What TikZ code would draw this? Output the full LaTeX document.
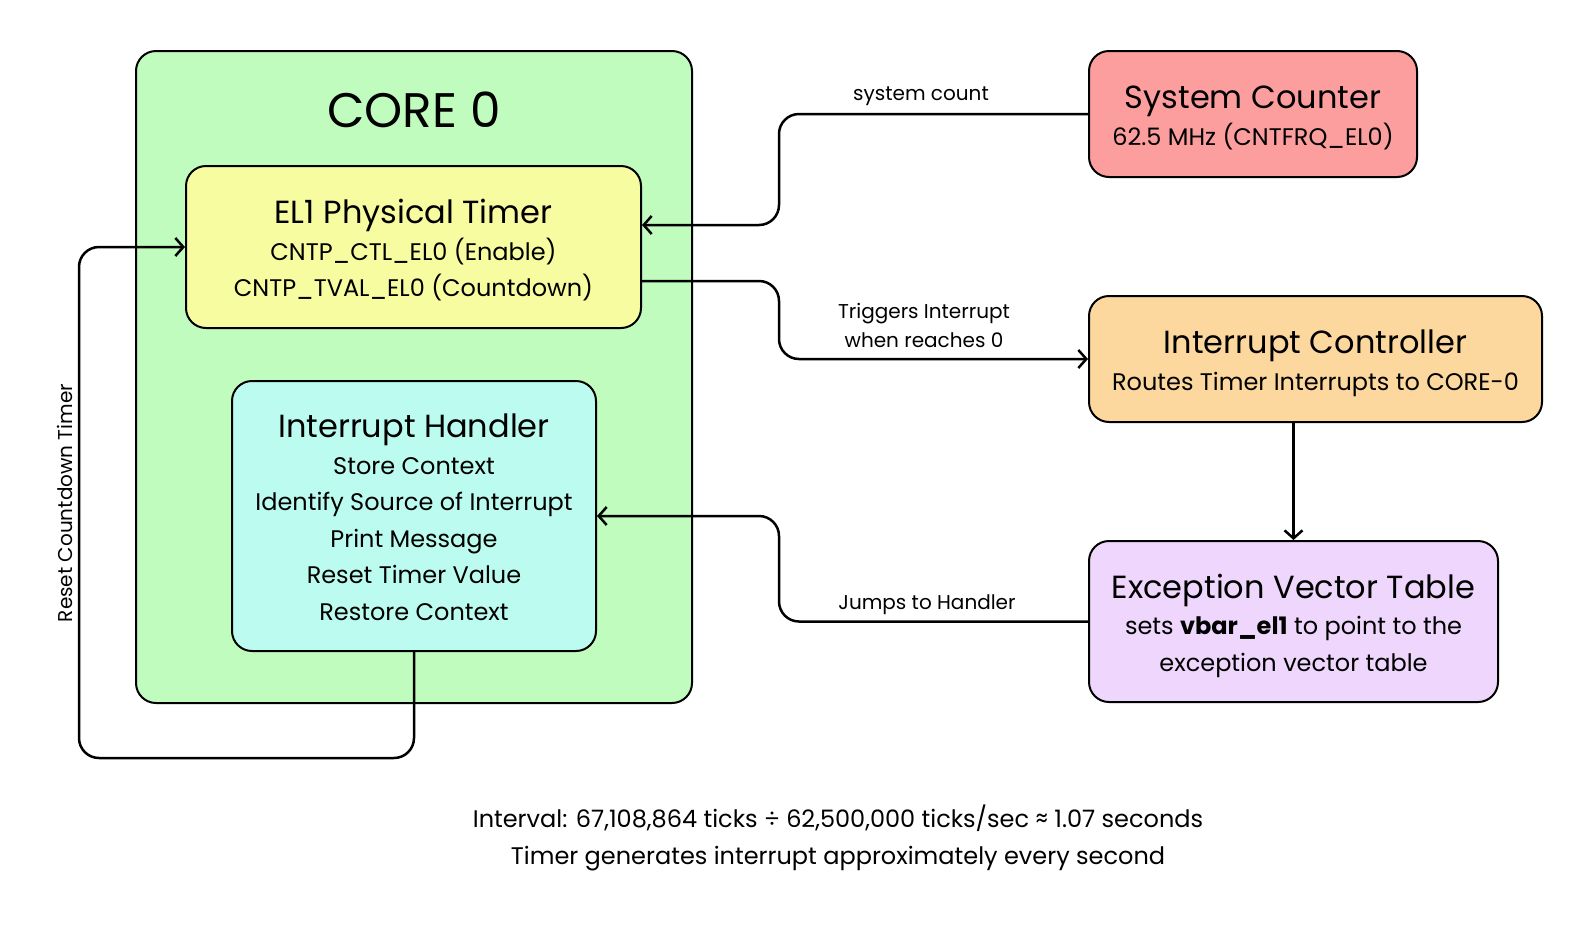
\documentclass[tikz,border=0pt]{standalone}
\usepackage{fontspec}
\setmainfont{Poppins}
\usetikzlibrary{arrows.meta}
\definecolor{coreg}{RGB}{192,252,190}
\definecolor{timery}{RGB}{248,252,160}
\definecolor{handc}{RGB}{188,252,240}
\definecolor{sysr}{RGB}{252,158,158}
\definecolor{ico}{RGB}{253,216,158}
\definecolor{evtp}{RGB}{238,214,252}
\newcommand{\ttl}{\fontsize{32}{37}\selectfont\rule{0pt}{37pt}}
\newcommand{\sbt}{\fontsize{24}{36.5}\selectfont}
\newcommand{\boxtext}[1]{\sbt\begin{tabular}{@{}c@{}}#1\end{tabular}}
\begin{document}
\begin{tikzpicture}[x=1pt,y=-1pt,
  box/.style={draw=black, line width=2pt, rounded corners=20pt, align=center, inner sep=0pt},
  conn/.style={line width=2.5pt, rounded corners=20pt},
  arr/.style={conn, -{Straight Barb[length=8pt,width=18pt,line width=2.5pt]}},
  lbl/.style={font=\fontsize{20}{29}\selectfont, align=center, inner sep=0pt}]
\useasboundingbox (0,0) rectangle (1594,924);
\node[box, fill=coreg, minimum width=556pt, minimum height=652pt] (core) at (414,377) {};
\node[inner sep=0pt, font=\fontsize{48.5}{50}\selectfont] (coret) at (414,110) {CORE 0};
\node[box, fill=timery, minimum width=455pt, minimum height=162pt] (yel) at (413.5,247)
  {\boxtext{{\ttl EL1 Physical Timer}\\ CNTP\_CTL\_EL0 (Enable)\\ CNTP\_TVAL\_EL0 (Countdown)}};
\node[box, fill=handc, minimum width=364pt, minimum height=270pt] (cy) at (414,516)
  {\boxtext{{\ttl Interrupt Handler}\\ Store Context\\ Identify Source of Interrupt\\ Print Message\\ Reset Timer Value\\ Restore Context}};
\node[box, fill=sysr, minimum width=328pt, minimum height=126pt] (sc) at (1253,114)
  {\boxtext{{\ttl System Counter}\\ 62.5 MHz (CNTFRQ\_EL0)}};
\node[box, fill=ico, minimum width=453pt, minimum height=126pt] (ic) at (1315.5,359)
  {\boxtext{{\ttl Interrupt Controller}\\ Routes Timer Interrupts to CORE-0}};
\node[box, fill=evtp, minimum width=409pt, minimum height=161pt] (evt) at (1293.5,621.5)
  {\boxtext{{\ttl Exception Vector Table}\\ sets \textbf{vbar\_el1} to point to the\\ exception vector table}};
% connectors
\draw[arr] (sc.west) -- (779,114) -- (779,225) -- (yel.east |- 0,225);
\node[lbl] (lsc) at (921,96) {system count};
\draw[arr] (yel.east |- 0,281) -- (779,281) -- (779,359) -- (ic.west);
\node[lbl] (ltr) at (924,325) {Triggers Interrupt\\when reaches 0};
\draw[arr] (ic.south -| evt.north) -- (evt.north);
\draw[arr] (evt.west) -- (779,621.5) -- (779,516) -- (cy.east);
\node[lbl] (ljm) at (927,605) {Jumps to Handler};
\draw[arr] (cy.south) -- (414,758) -- (79,758) -- (79,247) -- (yel.west);
\node[lbl, rotate=90] (lrs) at (65,503) {Reset Countdown Timer};
% bottom text
\node[inner sep=0pt, align=center, font=\fontsize{24}{36.5}\selectfont] (note) at (838,838)
  {Interval: 67,108,864 ticks ÷ 62,500,000 ticks/sec ≈ 1.07 seconds\\Timer generates interrupt approximately every second};
\end{tikzpicture}
\end{document}
